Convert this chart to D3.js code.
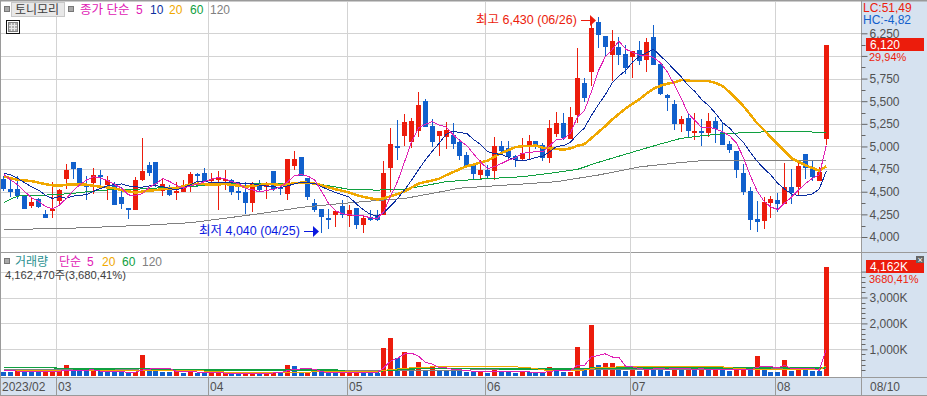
<!DOCTYPE html>
<html>
<head>
<meta charset="utf-8">
<script src="https://cdn.jsdelivr.net/npm/d3@7"></script>
<style>
  html, body { margin: 0; padding: 0; background: #fff; overflow: hidden; }
  text { font-family: "Liberation Sans", "Noto Sans CJK KR", sans-serif; font-size: 12px; }
</style>
</head>
<body>
<div id="chart"></div>
<script>
"use strict"

// daily candles, feb-aug 2023
let opens = [4645,4535,4525,4465,4340,4425,4255,4300,4400,4640,4830,4760,4575,4595,4685,4575,4590,4440,4320,4300,
  4630,4795,4830,4505,4555,4500,4500,4565,4700,4705,4630,4635,4635,4630,4505,4495,4380,4590,4555,4725,
  4555,4475,4785,4885,4650,4380,4310,4215,4240,4340,4230,4320,4130,4220,4245,4245,4765,5005,5115,5050,
  5170,5500,5225,5115,5105,5125,5050,4905,4795,4690,4740,4730,5005,4985,4895,4860,5015,5060,5015,4870,
  5135,5260,5080,5345,5700,5820,6375,6220,6010,6100,6020,5990,6065,5955,6210,5910,5570,5470,5250,5315,
  5150,5170,5150,5280,5160,5025,4950,4705,4510,4200,4175,4375,4410,4365,4550,4550,4915,4775,4620,5080];
let highs = [4670,4630,4675,4465,4445,4435,4300,4610,4535,4805,4830,4760,4675,4760,4740,4675,4605,4550,4320,4660,
  5095,4830,4830,4645,4575,4610,4630,4715,4710,4765,4710,4730,4745,4640,4575,4610,4610,4630,4610,4725,
  4575,4860,4955,4885,4650,4415,4310,4310,4285,4410,4355,4320,4240,4300,4300,4835,5205,5290,5360,5310,
  5600,5525,5305,5170,5270,5260,5080,4940,4795,4850,4795,5105,5060,5060,4905,5095,5125,5060,5040,5290,
  5380,5370,5435,6090,5755,6395,6430,6220,6285,6210,6120,6055,6165,6200,6340,5910,5580,5515,5335,5370,
  5370,5305,5370,5325,5270,5060,4950,4805,4550,4395,4440,4450,4485,4815,4750,4850,4915,4840,4775,6120];
let lows = [4505,4445,4420,4310,4325,4315,4210,4215,4355,4530,4645,4565,4410,4480,4535,4410,4355,4310,4200,4300,
  4620,4675,4555,4455,4450,4410,4495,4495,4555,4605,4595,4300,4520,4465,4410,4255,4280,4500,4415,4510,
  4465,4410,4740,4675,4410,4280,4040,4090,4110,4205,4115,4090,4045,4180,4180,4245,4500,4850,5005,4985,
  5110,5220,4995,4895,4970,4970,4850,4770,4635,4635,4645,4635,4905,4850,4775,4840,4860,4970,4840,4815,
  5105,5070,5080,5255,5490,5670,6085,5990,5725,5900,5800,5755,5900,5820,5900,5570,5390,5180,5160,5105,
  5070,5000,5105,5035,5015,4925,4650,4465,4075,4055,4090,4210,4275,4365,4365,4450,4640,4620,4620,5015];
let closes = [4530,4495,4455,4310,4385,4330,4215,4310,4515,4745,4755,4575,4565,4685,4665,4630,4355,4370,4305,4630,
  4725,4710,4580,4580,4465,4505,4575,4695,4675,4605,4645,4660,4645,4495,4490,4380,4600,4520,4590,4535,
  4525,4860,4860,4675,4440,4300,4225,4205,4285,4240,4300,4130,4210,4185,4185,4705,5025,4995,5265,5280,
  5460,5220,5050,5170,5180,5025,4895,4775,4695,4740,4670,5005,4950,4885,4850,4925,5060,4995,4870,5205,
  5260,5090,5325,5755,5535,6310,6230,6100,6165,6010,5865,6055,5945,6155,5900,5580,5535,5250,5305,5170,
  5170,5150,5280,5195,5015,4960,4740,4495,4185,4165,4385,4420,4365,4550,4485,4785,4760,4660,4715,6120];

// price moving averages
let ma5 = [4690,4630,4575,4500,4435,4395,4339,4310,4351,4423,4508,4580,4631,4665,4649,4624,4580,4541,4465,4458,
  4477,4548,4590,4645,4612,4568,4541,4564,4583,4611,4639,4656,4646,4610,4587,4534,4522,4497,4516,4525,
  4554,4606,4674,4691,4672,4627,4500,4369,4291,4255,4251,4232,4233,4213,4202,4283,4462,4619,4835,5054,
  5205,5244,5275,5236,5216,5129,5064,5009,4914,4826,4755,4777,4812,4850,4872,4923,4934,4943,4940,5011,
  5078,5084,5150,5327,5393,5603,5831,5986,6068,6163,6074,6039,6008,6006,5984,5927,5823,5684,5534,5368,
  5286,5209,5215,5193,5162,5120,5038,4881,4679,4509,4394,4330,4304,4377,4441,4521,4589,4648,4685,5008];
let ma10 = [4703,4685,4647,4600,4555,4518,4463,4426,4445,4429,4452,4460,4470,4508,4536,4566,4580,4586,4565,4554,
  4550,4564,4566,4555,4535,4522,4545,4577,4614,4612,4604,4598,4605,4597,4599,4587,4589,4572,4563,4556,
  4544,4564,4586,4604,4599,4591,4553,4522,4491,4464,4439,4366,4301,4252,4229,4267,4347,4426,4524,4628,
  4744,4853,4947,5036,5135,5167,5154,5142,5075,5021,4942,4921,4911,4882,4849,4839,4856,4878,4895,4942,
  5001,5009,5047,5134,5202,5341,5458,5568,5698,5778,5839,5935,5997,6037,6074,6000,5931,5846,5770,5676,
  5607,5516,5450,5364,5265,5203,5124,5048,4936,4836,4757,4684,4593,4528,4475,4458,4460,4476,4531,4725];
let ma20 = [4673,4647,4633,4625,4618,4600,4585,4570,4566,4577,4581,4581,4577,4566,4555,4548,4537,4518,4505,4491,
  4501,4512,4518,4531,4535,4544,4562,4581,4589,4583,4577,4581,4585,4576,4567,4554,4567,4574,4588,4584,
  4574,4581,4595,4600,4599,4589,4571,4547,4527,4510,4491,4465,4443,4428,4414,4429,4450,4474,4507,4546,
  4591,4609,4624,4644,4682,4717,4750,4784,4799,4824,4843,4887,4929,4959,4992,5003,5005,5010,4985,4981,
  4971,4965,4979,5008,5025,5090,5157,5223,5296,5360,5420,5472,5522,5585,5638,5670,5694,5707,5734,5727,
  5723,5725,5723,5700,5669,5601,5527,5447,5353,5256,5182,5100,5021,4946,4870,4830,4792,4762,4733,4780];
let ma60Days = [0,1,2,4,6,8,10,12,13,16,19,21,23,25,27,29,33,45,50,54,58,60,64,69,75,79,83,86,92,95,98,101,104,107,113,115,119];
let ma60 = [4382,4419,4452,4463,4463,4471,4482,4500,4507,4526,4526,4537,4544,4548,4555,4574,4590,4592,4526,4518,4528,4555,4611,4640,4666,4703,4747,4824,4961,5027,5090,5118,5140,5152,5170,5163,5156];
let ma120Days = [0,4,9,15,21,27,33,38,43,48,53,58,62,66,69,75,80,83,86,92,97,101,106,115,119];
let ma120 = [4077,4088,4095,4113,4132,4158,4217,4268,4327,4364,4397,4426,4482,4540,4555,4585,4611,4648,4684,4775,4815,4843,4843,4843,4850];

// volume in thousands, r = red bar, b = blue bar
let volumes = [116,142,232,142,142,142,154,154,154,386,154,154,154,167,154,116,116,116,77,116,
  772,154,154,116,116,154,77,193,77,77,77,90,77,90,77,77,77,77,77,116,
  103,386,347,116,116,116,116,77,77,116,77,116,116,77,77,1068,1430,656,900,193,
  515,193,335,193,193,193,154,116,129,154,77,257,129,154,77,129,129,103,77,309,
  270,116,129,1081,270,1930,386,463,463,193,154,309,154,309,270,270,154,347,193,270,
  193,232,232,232,193,154,193,270,193,734,309,116,116,579,154,270,193,154,154,4162];
let volumeColors = "bbrbbbrrrr" + "bbbrbbbbbr" + "rbbbbrbrbb" + "rrrbbrrbrr" + "brbbrbbbbr" + "rrbbbrrbrb" +
  "rbrbbbbbbr" + "brbbbrbbbr" + "bbrrbrbrrb" + "brbrbbbrbr" + "brbrbbrrbr" + "bbbrbrbbbr";
let volMa5 = [190,170,160,150,155,160,162,147,149,198,200,200,200,202,157,146,141,133,116,108,
  197,235,255,262,262,139,123,131,123,116,100,103,80,82,82,82,80,77,77,85,
  90,170,230,240,265,225,130,110,100,100,90,95,100,95,90,291,553,658,826,850,
  739,491,427,286,286,221,214,170,157,145,126,147,149,154,139,149,124,118,103,149,
  178,175,180,381,373,705,759,826,703,695,332,316,254,224,239,262,231,270,247,247,
  231,247,224,232,216,209,201,209,201,309,340,324,294,371,255,247,262,270,185,987];
let volMa20Days = [0,20,28,32,40,54,55,58,62,74,76,79,84,86,93,102,104,107,118,119];
let volMa20 = [190,190,175,120,120,130,190,270,320,322,290,170,200,300,345,345,320,240,210,355];
let volMa60Days = [0,7,8,12,20,26,30,48,50,54,55,60,68,80,85,93,105,112,118,119];
let volMa60 = [296,296,257,240,257,210,206,206,130,120,180,257,257,230,270,275,270,290,270,290];
let volMa120Days = [0,20,48,55,85,119];
let volMa120 = [225,200,185,190,215,255];

// axes
let priceTicks = [6250,6000,5750,5500,5250,5000,4750,4500,4250,4000];
let priceMinor = [6125,5875,5625,5375,5125,4875,4625,4375,4125];
let volumeTicks = [4000,3000,2000,1000];
let volumeMinor = [3800,3600,3400,3200,2800,2600,2400,2200,1800,1600,1400,1200,800,600,400,200];
let monthNames = ["03","04","05","06","07","08"];
let monthDays = [7.6,29.6,49.7,69.7,90.7,111.7];

const RED = "#ec1c0c", BLUE = "#1160cc", MAGENTA = "#e020b4", NAVY = "#0c2ea0",
      ORANGE = "#f0a800", GREEN = "#10a040", GRAY = "#808080";
const AXIS_BG = "#d6e2f0", GRID = "#d3d3d3", EDGE = "#9a9a9a", LABEL = "#505050";

let svg = d3.select("#chart").append("svg")
  .attr("width", 927)
  .attr("height", 396)
  .style("display", "block");

let xScale = d3.scaleLinear().domain([0, 119]).range([3.95, 826.2]);
let yPrice = d3.scaleLinear().domain([4000, 6250]).range([237, 33.3]);
let yVolume = d3.scaleLinear().domain([0, 4000]).range([375.2, 271.6]);

function px(i) { return Math.floor(xScale(i)); }

drawFrame();
drawGrid();
drawCandles();
drawVolume();
drawPriceLines();
drawAxes();
drawLegends();
drawNotes();

function drawFrame()
{
  svg.append("rect").attr("x", 861).attr("y", 0).attr("width", 66).attr("height", 396).attr("fill", AXIS_BG);
  svg.append("rect").attr("x", 0).attr("y", 377).attr("width", 927).attr("height", 19).attr("fill", AXIS_BG);

  let edges = [[0,0.5,927,0.5],[0.5,0,0.5,396],[0,252.5,927,252.5],[0,377.5,927,377.5],[0,395.5,927,395.5],[861.5,0,861.5,396]];
  svg.selectAll(".edge").data(edges).enter().append("line")
    .attr("class", "edge")
    .attr("x1", d => d[0]).attr("y1", d => d[1])
    .attr("x2", d => d[2]).attr("y2", d => d[3])
    .attr("stroke", EDGE)
    .attr("stroke-width", d => d[1] == 0.5 ? 2 : 1);
}

function drawGrid()
{
  let grid = svg.append("g").attr("stroke", GRID).attr("shape-rendering", "crispEdges");

  grid.selectAll(".priceGrid").data(priceTicks).enter().append("line")
    .attr("x1", 1).attr("x2", 861)
    .attr("y1", d => Math.round(yPrice(d)) + 0.5)
    .attr("y2", d => Math.round(yPrice(d)) + 0.5);

  grid.selectAll(".volumeGrid").data(volumeTicks).enter().append("line")
    .attr("x1", 1).attr("x2", 861)
    .attr("y1", d => Math.round(yVolume(d)) + 0.5)
    .attr("y2", d => Math.round(yVolume(d)) + 0.5);

  grid.selectAll(".monthGrid").data(monthDays).enter().append("line")
    .attr("y1", 2).attr("y2", 377)
    .attr("x1", d => Math.floor(xScale(d)) + 0.5)
    .attr("x2", d => Math.floor(xScale(d)) + 0.5);

  // month ticks carry on into the date strip
  svg.append("g").attr("stroke", EDGE).attr("shape-rendering", "crispEdges")
    .selectAll("line").data(monthDays).enter().append("line")
    .attr("y1", 377).attr("y2", 395)
    .attr("x1", d => Math.floor(xScale(d)) + 0.5)
    .attr("x2", d => Math.floor(xScale(d)) + 0.5);
}

function drawCandles()
{
  let candles = svg.append("g").attr("shape-rendering", "crispEdges")
    .selectAll("g").data(closes).enter().append("g")
    .attr("fill", (d, i) => d > opens[i] ? RED : BLUE);

  candles.append("rect")
    .attr("x", (d, i) => px(i))
    .attr("width", 1)
    .attr("y", (d, i) => Math.round(yPrice(highs[i])))
    .attr("height", (d, i) => Math.max(1, Math.round(yPrice(lows[i])) - Math.round(yPrice(highs[i]))));

  candles.append("rect")
    .attr("x", (d, i) => px(i) - 2)
    .attr("width", 5)
    .attr("y", (d, i) => Math.round(yPrice(Math.max(d, opens[i]))))
    .attr("height", (d, i) => Math.max(2, Math.round(yPrice(Math.min(d, opens[i]))) - Math.round(yPrice(Math.max(d, opens[i])))));
}

function drawVolume()
{
  svg.append("g").attr("shape-rendering", "crispEdges")
    .selectAll("rect").data(volumes).enter().append("rect")
    .attr("x", (d, i) => px(i) - 2)
    .attr("width", 5)
    .attr("y", d => Math.round(yVolume(d)))
    .attr("height", d => 376 - Math.round(yVolume(d)))
    .attr("fill", (d, i) => volumeColors[i] == "r" ? RED : BLUE);

  let line = d3.line().x(d => xScale(d[0])).y(d => yVolume(d[1]));
  addLine(line, d3.zip(volMa120Days, volMa120), GRAY, 1);
  addLine(line, d3.zip(volMa60Days, volMa60), GREEN, 1.5);
  addLine(line, d3.zip(volMa20Days, volMa20), ORANGE, 1);
  addLine(line, volMa5.map((d, i) => [i, d]), MAGENTA, 1);
}

function drawPriceLines()
{
  let line = d3.line().x(d => xScale(d[0])).y(d => yPrice(d[1]));
  addLine(line, d3.zip(ma120Days, ma120), GRAY, 1);
  addLine(line, d3.zip(ma60Days, ma60), GREEN, 1);
  addLine(line, ma20.map((d, i) => [i, d]), ORANGE, 2.5);
  addLine(line, ma10.map((d, i) => [i, d]), NAVY, 1);
  addLine(line, ma5.map((d, i) => [i, d]), MAGENTA, 1);
}

function addLine(line, points, color, width)
{
  svg.append("path")
    .attr("d", line(points))
    .attr("fill", "none")
    .attr("stroke", color)
    .attr("stroke-width", width)
    .attr("shape-rendering", "crispEdges");
}

function drawAxes()
{
  let priceAxis = d3.axisRight(yPrice).tickValues(priceTicks).tickSize(6).tickPadding(2)
    .tickFormat(d => d == 6000 ? "" : d3.format(",")(d));
  let volumeAxis = d3.axisRight(yVolume).tickValues(volumeTicks).tickSize(6).tickPadding(2)
    .tickFormat(d => d == 4000 ? "" : d3.format(",")(d) + "K");

  [priceAxis, volumeAxis].forEach(axis => {
    let g = svg.append("g").attr("transform", "translate(861.5,0)").call(axis);
    g.select(".domain").remove();
    g.selectAll("line").attr("stroke", "#666");
    g.selectAll("text").attr("fill", LABEL).attr("font-family", null).attr("font-size", null)
      .style("font-size", "12px");
  });

  let minorTicks = svg.append("g").attr("stroke", "#666");
  minorTicks.selectAll(".priceMinor").data(priceMinor).enter().append("line")
    .attr("x1", 861.5).attr("x2", 865.5)
    .attr("y1", d => Math.round(yPrice(d)) + 0.5)
    .attr("y2", d => Math.round(yPrice(d)) + 0.5);
  minorTicks.selectAll(".volumeMinor").data(volumeMinor).enter().append("line")
    .attr("x1", 861.5).attr("x2", 865.5)
    .attr("y1", d => Math.round(yVolume(d)) + 0.5)
    .attr("y2", d => Math.round(yVolume(d)) + 0.5);

  // current value boxes
  svg.append("rect").attr("x", 866).attr("y", 38).attr("width", 58).attr("height", 13).attr("fill", RED);
  svg.append("rect").attr("x", 866).attr("y", 260).attr("width", 58).attr("height", 13).attr("fill", RED);
  label("6,120", 870, 49, "#fff", 12);
  label("4,162K", 870, 271, "#fff", 12);
  label("29,94%", 869, 60.5, RED, 11);
  label("3680,41%", 869, 283, RED, 11);
  label("LC:51,49", 863, 12, RED, 12);
  label("HC:-4,82", 863, 24, BLUE, 12);

  // close button of the volume pane
  svg.append("rect").attr("x", 916).attr("y", 256).attr("width", 8).attr("height", 7).attr("fill", "#666");
  label("×", 917.5, 262.5, "#fff", 9);

  // date strip
  label("2023/02", 2, 391, LABEL, 12);
  monthNames.forEach((m, i) => label(m, Math.floor(xScale(monthDays[i])) + 2, 391, LABEL, 12));
  label("08/10", 870, 391, LABEL, 12);
  svg.append("line").attr("x1", 861.5).attr("x2", 861.5).attr("y1", 377).attr("y2", 395).attr("stroke", EDGE);
}

function label(str, x, y, color, size)
{
  return svg.append("text")
    .attr("x", x)
    .attr("y", y)
    .attr("fill", color)
    .style("font-size", (size || 12) + "px")
    .text(str);
}

function drawLegends()
{
  // stock name
  svg.append("rect").attr("x", 4).attr("y", 6).attr("width", 5).attr("height", 5)
    .attr("fill", "#a8a8a8").attr("stroke", "#777").attr("shape-rendering", "crispEdges");
  svg.append("rect").attr("x", 11.5).attr("y", 2.5).attr("width", 53).attr("height", 14)
    .attr("fill", "#e8e8e8").attr("stroke", "#c8c8c8");
  label("토니모리", 15, 14, "#404040", 12);
  svg.append("rect").attr("x", 68).attr("y", 6).attr("width", 5).attr("height", 5)
    .attr("fill", "#a8a8a8").attr("stroke", "#777").attr("shape-rendering", "crispEdges");

  label("종가 단순", 80, 14, MAGENTA, 12.5);
  label("5", 136, 14, MAGENTA, 12);
  label("10", 150, 14, NAVY, 12);
  label("20", 169, 14, ORANGE, 12);
  label("60", 190, 14, GREEN, 12);
  label("120", 210, 14, GRAY, 12);

  // table button
  svg.append("rect").attr("x", 6.5).attr("y", 20.5).attr("width", 13).attr("height", 13)
    .attr("fill", "#fff").attr("stroke", "#111");
  svg.append("rect").attr("x", 8.5).attr("y", 22.5).attr("width", 9).attr("height", 9)
    .attr("fill", "#b0b0b0").attr("stroke", "#808080");
  svg.append("path").attr("d", "M11.5 23V31M14.5 23V31M9 25.5H17M9 28.5H17").attr("stroke", "#e8e8e8");

  // volume pane
  svg.append("rect").attr("x", 4).attr("y", 258).attr("width", 5).attr("height", 5)
    .attr("fill", "#a8a8a8").attr("stroke", "#777").attr("shape-rendering", "crispEdges");
  label("거래량", 15, 266, "#2a9090", 12);
  label("단순", 59, 266, MAGENTA, 12);
  label("5", 87, 266, MAGENTA, 12);
  label("20", 102, 266, ORANGE, 12);
  label("60", 122, 266, GREEN, 12);
  label("120", 142, 266, GRAY, 12);
  label("4,162,470주(3,680,41%)", 5, 279, "#404040", 11.2);
}

function drawNotes()
{
  label("최고 6,430 (06/26)", 476, 24, RED, 12.5);
  svg.append("line").attr("x1", 581).attr("x2", 591).attr("y1", 20.5).attr("y2", 20.5).attr("stroke", RED);
  svg.append("path").attr("d", "M590 15L596 20.5L590 26Z").attr("fill", RED);

  label("최저 4,040 (04/25)", 199, 235, "#0a18e0", 12.5);
  svg.append("line").attr("x1", 304).attr("x2", 314).attr("y1", 231.5).attr("y2", 231.5).attr("stroke", "#0a18e0");
  svg.append("path").attr("d", "M313 226L319 231.5L313 237Z").attr("fill", "#0a18e0");
}
</script>
</body>
</html>
